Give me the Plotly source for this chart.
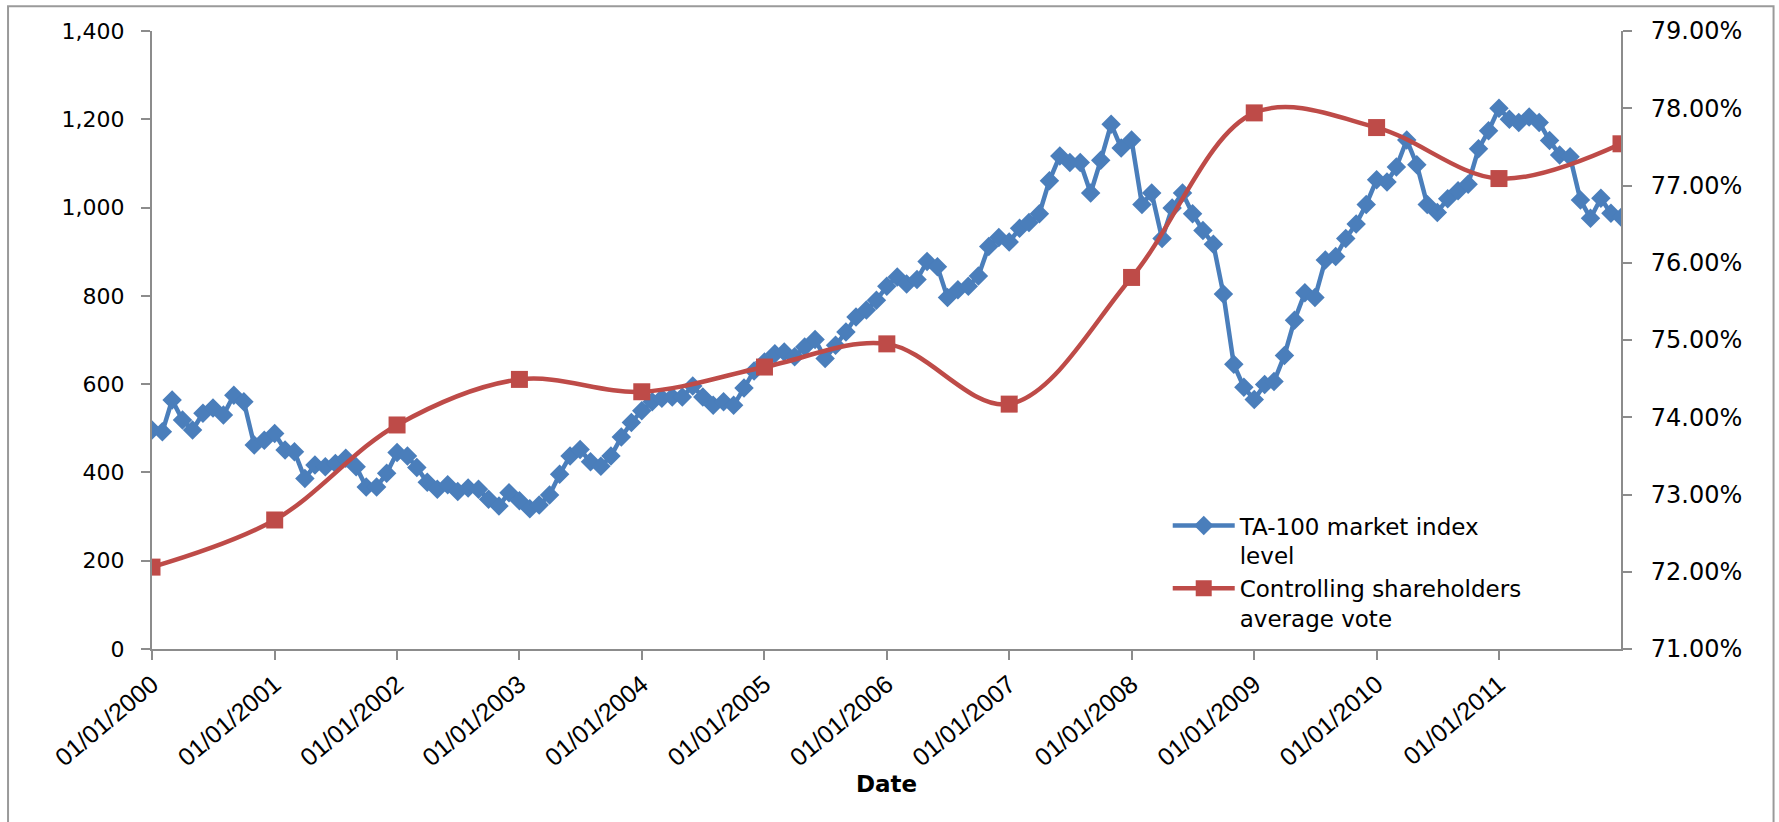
import pandas as pd
import plotly.graph_objects as go

# ---- data ----
index_dates = pd.date_range("2000-01-01", "2012-01-01", freq="MS")
ta100_index = [
    # 2000
    496, 492, 564, 519, 496, 534, 546, 530, 575, 560, 462, 473,
    # 2001
    488, 451, 447, 386, 417, 413, 420, 432, 413, 367, 367, 398,
    # 2002
    445, 437, 411, 378, 362, 372, 357, 365, 362, 339, 324, 354,
    # 2003
    336, 318, 326, 349, 396, 437, 452, 424, 414, 437, 480, 513,
    # 2004
    540, 560, 568, 571, 571, 596, 571, 552, 560, 552, 591, 630,
    # 2005
    650, 669, 673, 662, 684, 701, 658, 688, 718, 752, 768, 790,
    # 2006
    822, 843, 827, 837, 878, 866, 796, 814, 822, 845, 912, 932,
    # 2007
    922, 953, 966, 986, 1061, 1117, 1102, 1102, 1033, 1107, 1189, 1135,
    # 2008
    1153, 1007, 1033, 930, 999, 1033, 986, 948, 917, 804, 645, 593,
    # 2009
    565, 599, 606, 665, 745, 807, 796, 881, 889, 930, 963, 1007,
    # 2010
    1063, 1058, 1092, 1153, 1097, 1007, 989, 1020, 1038, 1053, 1133, 1174,
    # 2011 (+ last observation)
    1225, 1200, 1193, 1205, 1193, 1152, 1119, 1115, 1017, 976, 1021, 987, 978,
]

vote_dates = ["2000-01-01", "2001-01-01", "2002-01-01", "2003-01-01", "2004-01-01",
              "2005-01-01", "2006-01-01", "2007-01-01", "2008-01-01", "2009-01-01",
              "2010-01-01", "2011-01-01", "2011-12-31"]
avg_vote = [0.7206, 0.7267, 0.7390, 0.7449, 0.7433, 0.7465, 0.7495,
            0.7417, 0.7581, 0.7794, 0.7775, 0.7709, 0.7754]

year_ticks = ["%d-01-01" % y for y in range(2000, 2012)]
left_ticks = [0, 200, 400, 600, 800, 1000, 1200, 1400]
right_ticks = [0.71, 0.72, 0.73, 0.74, 0.75, 0.76, 0.77, 0.78, 0.79]

BLUE = "#4A7EBB"
RED = "#BE4B48"
AXIS = "#8C8C8C"

fig = go.Figure()
fig.add_trace(go.Scatter(
    x=index_dates, y=ta100_index, name="TA-100 market index<br>level",
    mode="lines+markers",
    line=dict(color=BLUE, width=4.5),
    marker=dict(symbol="diamond", size=15, color=BLUE),
    yaxis="y",
))
fig.add_trace(go.Scatter(
    x=vote_dates, y=avg_vote, name="Controlling shareholders<br>average vote",
    mode="lines+markers",
    line=dict(color=RED, width=4.5, shape="spline", smoothing=1),
    marker=dict(symbol="square", size=17, color=RED),
    yaxis="y2",
))

W, H = 1779, 822
L, R, T, B = 152, 1621.4, 30.7, 649
pw, ph = R - L, B - T

def px_x(p):
    return (p - L) / pw

def px_y(p):
    return (B - p) / ph

fig.update_layout(
    width=W, height=H, autosize=False,
    margin=dict(l=L, r=W - R, t=T, b=H - B, pad=0),
    paper_bgcolor="white", plot_bgcolor="white",
    showlegend=True,
    legend=dict(
        x=px_x(1168), y=px_y(504), xanchor="left", yanchor="top",
        bgcolor="rgba(0,0,0,0)", valign="top", tracegroupgap=2,
        font=dict(family="DejaVu Sans", size=23, color="#000000"),
        itemwidth=62,
    ),
    xaxis=dict(
        type="date",
        range=["2000-01-01", "2011-12-31"],
        tickmode="array", tickvals=year_ticks, tickformat="%d/%m/%Y",
        tickangle=-40,
        tickfont=dict(family="Liberation Sans", size=25, color="#000000"),
        ticks="outside", ticklen=9, tickwidth=2, tickcolor=AXIS,
        showline=True, linecolor=AXIS, linewidth=2,
        showgrid=False, zeroline=False,
        title=dict(text="<b>Date</b>", font=dict(family="DejaVu Sans", size=23, color="#000000"),
                   standoff=2),
    ),
    yaxis=dict(
        range=[0, 1400], tickmode="array", tickvals=left_ticks, tickformat=",",
        tickfont=dict(family="DejaVu Sans", size=22, color="#000000"),
        ticks="outside", ticklen=9, tickwidth=2, tickcolor=AXIS,
        ticklabelstandoff=12,
        showline=True, linecolor=AXIS, linewidth=2,
        showgrid=False, zeroline=False,
    ),
    yaxis2=dict(
        range=[0.71, 0.79], overlaying="y", side="right",
        tickmode="array", tickvals=right_ticks, tickformat=".2%",
        tickfont=dict(family="DejaVu Sans", size=24, color="#000000"),
        ticks="outside", ticklen=9, tickwidth=2, tickcolor=AXIS,
        ticklabelstandoff=14,
        showline=True, linecolor=AXIS, linewidth=2,
        showgrid=False, zeroline=False,
    ),
    shapes=[
        dict(type="rect", xref="paper", yref="paper",
             x0=px_x(8), x1=px_x(1774), y0=px_y(900), y1=px_y(6),
             line=dict(color="#9A9A9A", width=2), fillcolor="rgba(0,0,0,0)", layer="below"),
    ],
)

fig.write_html("out.html")
